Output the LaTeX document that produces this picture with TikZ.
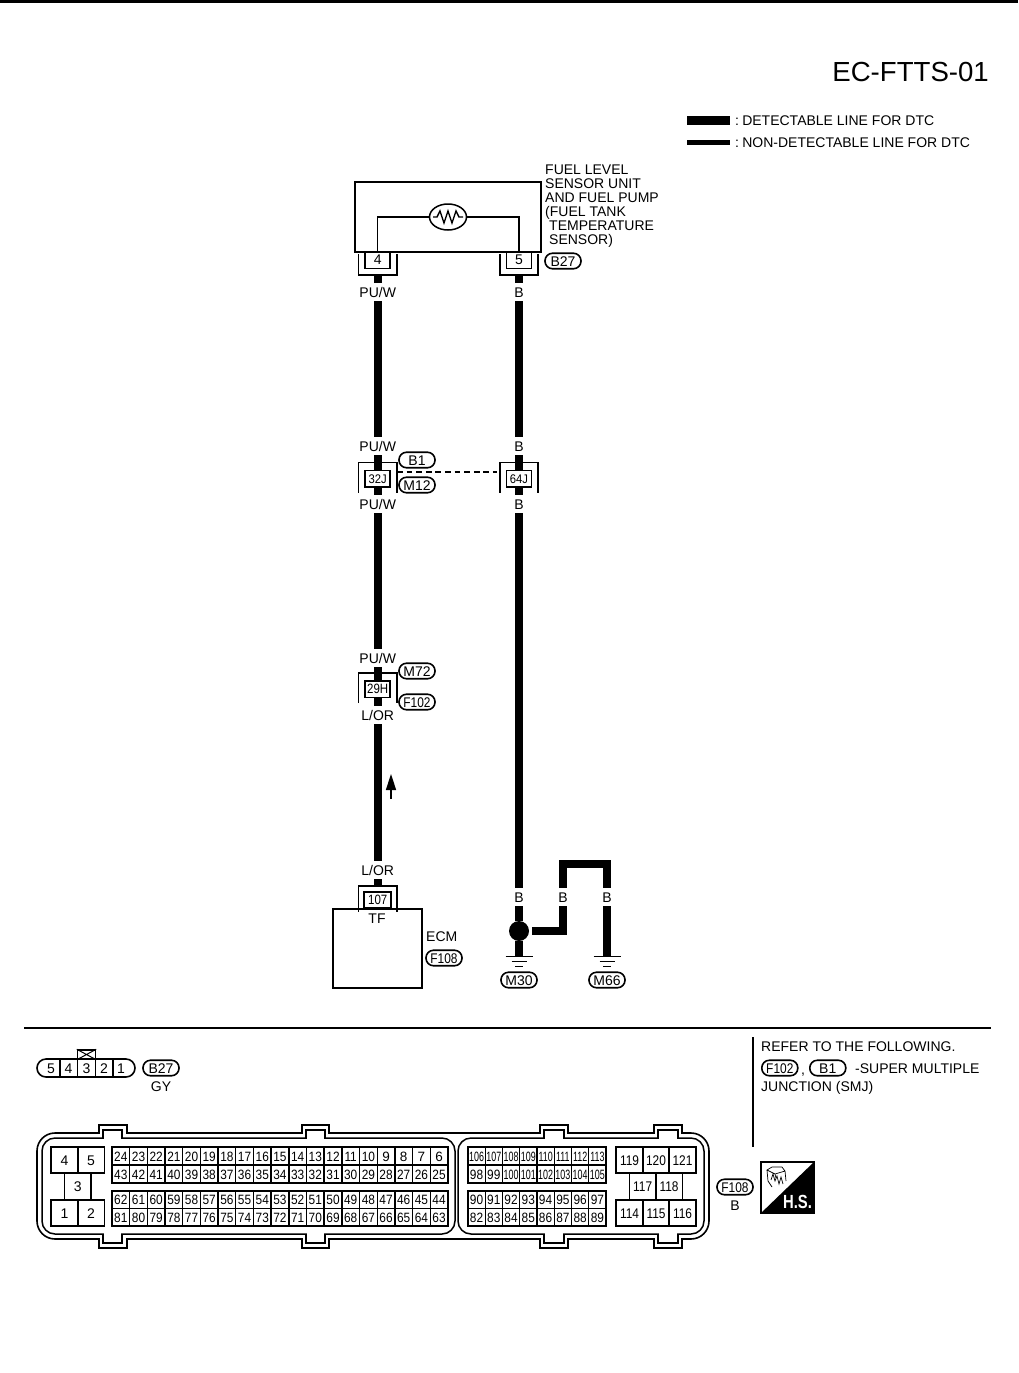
\documentclass[tikz,border=0pt]{standalone}
\usepackage{fontspec}
\setmainfont{Liberation Sans}
\usetikzlibrary{shapes.geometric}
\newcommand\fsz{\fontsize{14}{14}\selectfont}
\newcommand\fpin{\fontsize{13.5}{14}\selectfont}
\newcommand\nrw[1]{\scalebox{0.85}[1]{#1}}
\newcommand\cupU[1]{\draw[cshell] ([xshift=-6pt,yshift=-3pt]#1.north west) -- ([xshift=-6pt,yshift=-6pt]#1.south west) -- ([xshift=6pt,yshift=-6pt]#1.south east) -- ([xshift=6pt,yshift=-3pt]#1.north east);}
\newcommand\capU[1]{\draw[cshell] ([xshift=-6pt,yshift=-5pt]#1.south west) -- ([xshift=-6pt,yshift=7pt]#1.north west) -- ([xshift=6pt,yshift=7pt]#1.north east) -- ([xshift=6pt,yshift=-5pt]#1.south east);}
\newcommand\gnd[1]{\draw[gline] ([xshift=-13.5pt]#1) -- ([xshift=13.5pt]#1);
  \draw[gline] ([xshift=-7.5pt,yshift=-5pt]#1) -- ([xshift=7.5pt,yshift=-5pt]#1);
  \draw[gline] ([xshift=-4pt,yshift=-10pt]#1) -- ([xshift=4pt,yshift=-10pt]#1);}
\tikzset{
  x=1pt,y=-1pt,
  wire/.style={line width=8.2pt,line cap=butt,line join=miter},
  cshell/.style={line width=1.6pt},
  gline/.style={line width=1.7pt},
  lbl/.style={font=\fsz,inner sep=0pt,minimum height=18pt,text height=10pt,text depth=0pt},
  txt/.style={font=\fsz,inner sep=0pt,anchor=west,text height=10pt,text depth=0pt},
  conbox/.style={draw,line width=1.5pt,fill=white,inner sep=0pt,minimum width=25pt,minimum height=16.5pt,font=\fontsize{12.5}{13}\selectfont,text height=9pt,text depth=0pt},
  tag/.style={draw,line width=1.6pt,rounded corners=7.5pt,inner sep=0pt,minimum width=36pt,minimum height=15.5pt,font=\fsz,text height=10pt,text depth=0pt},
  pin/.style={draw,line width=1.4pt,inner sep=0pt,font=\fpin,text height=10pt,text depth=0pt,minimum width=17.68pt,minimum height=17.7pt},
  pinb/.style={pin,minimum width=17.25pt},
  bigpin/.style={draw,line width=1.5pt,inner sep=0pt,font=\fsz,text height=10pt,text depth=0pt,minimum width=26.6pt,minimum height=26.3pt},
}
\begin{document}
\begin{tikzpicture}
\useasboundingbox (0,0) rectangle (1018,1373);
% top rule
\coordinate (tl) at (0,1.5); \coordinate (tr) at (1018,1.5);
\draw[line width=3pt] (tl) -- (tr);
\node[font=\fontsize{27.6}{28}\selectfont,inner sep=0pt,anchor=east,text height=20pt,text depth=0pt] (title) at (989,71) {EC-FTTS-01};
% legend
\node[txt] (legA) at (735,120) {:\hspace{3.2pt}DETECTABLE LINE FOR DTC};
\node[txt] (legB) at (735,142) {:\hspace{3.2pt}NON-DETECTABLE LINE FOR DTC};
\coordinate (legA0) at (687,120); \coordinate (legB0) at (687,142);
\draw[line width=9pt] (legA0) -- ([xshift=-5pt]legA.west);
\draw[line width=5pt] (legB0) -- ([xshift=-5pt]legB.west);
% sensor unit
\node[draw,line width=1.6pt,minimum width=186pt,minimum height=70pt,inner sep=0pt] (sens) at (448,217) {};
\node[draw,line width=1.5pt,ellipse,minimum width=37pt,minimum height=26pt,inner sep=0pt] (therm) at (448,217) {};
\draw[line width=1.4pt,shift={(therm.center)}] (-15,0) -- (-11,0) -- (-8,-6) -- (-4,6) -- (0,-6) -- (4,6) -- (8,-6) -- (11,0) -- (15,0);
\node[font=\fsz,inner sep=0pt,anchor=north west,align=left] (senst) at (545,165) {FUEL LEVEL\\SENSOR UNIT\\AND FUEL PUMP\\(FUEL TANK\\\hspace*{4pt}TEMPERATURE\\\hspace*{4pt}SENSOR)};
\node[conbox,font=\fsz] (c4) at (377.7,260.2) {4};
\node[conbox,font=\fsz] (c5) at (519,260.2) {5};
\cupU{c4}\cupU{c5}
\draw[line width=1.4pt] (c4.north) |- (therm.west);
\draw[line width=1.4pt] (c5.north) |- (therm.east);
\node[tag] (tB27) at (563,261) {B27};
% wire labels
\node[lbl] (lA1) at (377.7,292) {PU/W};
\node[lbl] (lA2) at (377.7,446) {PU/W};
\node[lbl] (lA3) at (377.7,504) {PU/W};
\node[lbl] (lA4) at (377.7,658) {PU/W};
\node[lbl] (lA5) at (377.7,715) {L/OR};
\node[lbl] (lA6) at (377.7,870) {L/OR};
\node[lbl] (lB1) at (519,292) {B};
\node[lbl] (lB2) at (519,446) {B};
\node[lbl] (lB3) at (519,504) {B};
\node[lbl] (lB4) at (519,897) {B};
\node[lbl] (lB5) at (563,897) {B};
\node[lbl] (lB6) at (607,897) {B};
% mid connectors
\node[conbox] (c32) at (377.7,478.5) {\scalebox{0.9}[1]{32J}};
\node[conbox] (c64) at (519,478.5) {\scalebox{0.9}[1]{64J}};
\node[conbox,font=\fontsize{13.5}{14}\selectfont] (c29) at (377.7,689) {\scalebox{0.85}[1]{29H}};
\node[conbox,minimum width=27pt,minimum height=16pt,font=\fontsize{13.5}{14}\selectfont] (c107) at (377.7,900) {\scalebox{0.85}[1]{107}};
\capU{c32}\capU{c64}\capU{c29}
\draw[cshell] ([xshift=-5pt,yshift=-3pt]c107.south west) -- ([xshift=-5pt,yshift=5pt]c107.north west) -- ([xshift=5pt,yshift=5pt]c107.north east) -- ([xshift=5pt,yshift=-3pt]c107.south east);
\draw[line width=1.4pt,dash pattern=on 5.8pt off 3.8pt] ([xshift=6pt,yshift=6.5pt]c32.east) -- ([xshift=-9pt,yshift=6.5pt]c64.west);
\node[tag] (tB1) at (417,460) {B1};
\node[tag] (tM12) at (417,485) {M12};
\node[tag] (tM72) at (417,671) {M72};
\node[tag] (tF102) at (417,702) {\nrw{F102}};
% ECM
\node[draw,line width=1.6pt,minimum width=89pt,minimum height=79pt,inner sep=0pt] (ecm) at (377.5,948.5) {};
\node[lbl] (tf) at (377,918) {TF};
\node[txt] (ecmt) at (426,936) {ECM};
\node[tag] (tF108) at (444,958) {\nrw{F108}};
% dot and grounds
\node[circle,fill=black,inner sep=0pt,minimum size=20pt] (dot) at (519,931) {};
\coordinate (gA) at (519,956.5);
\coordinate (gB) at (607,956.5);
\gnd{gA}\gnd{gB}
\node[tag] (tM30) at (519,980) {M30};
\node[tag] (tM66) at (607,980) {M66};
\coordinate (topbend) at (585,864);
% wires
\draw[wire,shorten <=6pt] (c4.south) -- (lA1.north);
\draw[wire] (lA1.south) -- (lA2.north);
\draw[wire] (lA2.south) -- (c32.north);
\draw[wire] (c32.south) -- (lA3.north);
\draw[wire] (lA3.south) -- (lA4.north);
\draw[wire] (lA4.south) -- (c29.north);
\draw[wire] (c29.south) -- (lA5.north);
\draw[wire] (lA5.south) -- (lA6.north);
\draw[wire,shorten >=5pt] (lA6.south) -- (c107.north);
\draw[wire,shorten <=6pt] (c5.south) -- (lB1.north);
\draw[wire] (lB1.south) -- (lB2.north);
\draw[wire] (lB2.south) -- (c64.north);
\draw[wire] (c64.south) -- (lB3.north);
\draw[wire] (lB3.south) -- (lB4.north);
\draw[wire] (lB4.south) -- (dot.north);
\draw[wire] (dot.south) -- (gA);
\draw[wire] ([xshift=3pt]dot.east) -| (lB5.south);
\draw[wire] (lB5.north) |- (topbend) -| (lB6.north);
\draw[wire] (lB6.south) -- (gB);
% arrow
\coordinate (arT) at (391,774); \coordinate (arB) at (391,799);
\draw[line width=1.4pt] (arB) -- (391,785);
\fill (arT) -- (396.2,790) -- (385.8,790) -- cycle;
% divider
\coordinate (dl) at (24,1028); \coordinate (dr) at (991,1028);
\draw[line width=1.6pt] (dl) -- (dr);
% refer block
\coordinate (rt) at (753,1037); \coordinate (rb) at (753,1147);
\draw[line width=1.4pt] (rt) -- (rb);
\node[txt] (ref1) at (761,1046) {REFER TO THE FOLLOWING.};
\node[tag,anchor=west] (rF) at (761,1068) {\nrw{F102}};
\node[txt] (comma) at (801,1069) {,};
\node[tag,anchor=west] (rB) at (809,1068) {B1};
\node[txt] (ref2) at (855,1068) {-SUPER MULTIPLE};
\node[txt] (ref3) at (761,1086) {JUNCTION (SMJ)};
% B27 small connector
\node[draw,line width=1.6pt,rounded corners=9pt,minimum width=98pt,minimum height=18pt,inner sep=0pt] (sc) at (86,1068) {};
\foreach \xx in {60,77.5,95.5,113} \draw[line width=1.4pt] (\xx,1059) -- (\xx,1077);
\foreach \xx/\n in {51/5,68.5/4,86.5/3,104/2,121/1} \node[font=\fsz,inner sep=0pt,text height=10pt,text depth=0pt] (sc\n) at (\xx,1068) {\n};
\node[draw,line width=1.5pt,minimum width=18pt,minimum height=9pt,inner sep=0pt] (notch) at (86.5,1054.5) {};
\draw[line width=1pt] (notch.north west) -- (notch.south east) (notch.north east) -- (notch.south west);
\node[tag] (tB27b) at (161,1068) {B27};
\node[lbl] (gy) at (161,1086) {GY};
% F108 big connector body
\node[draw,line width=1.6pt,rounded corners=18pt,minimum width=672pt,minimum height=106pt,inner sep=0pt] (body) at (373,1186) {};
\node[draw,line width=1.5pt,rounded corners=13pt,minimum width=413pt,minimum height=96pt,inner sep=0pt] (pl) at (248.5,1186) {};
\node[draw,line width=1.5pt,rounded corners=13pt,minimum width=246pt,minimum height=96pt,inner sep=0pt] (pr) at (581,1186) {};
\foreach \a/\b/\c/\d in {99/103/122/127,302/306/325/329,540/544/564/568,654/658/678/682}{
  \fill[white] (\a+0.8,1131) rectangle (\d-0.8,1135);
  \fill[white] (\b+0.8,1136) rectangle (\c-0.8,1140);
  \fill[white] (\a+0.8,1237) rectangle (\d-0.8,1241);
  \fill[white] (\b+0.8,1232) rectangle (\c-0.8,1236);
  \draw[line width=1.5pt] (\a,1133) -- (\a,1125) -- (\d,1125) -- (\d,1133);
  \draw[line width=1.5pt] (\b,1138) -- (\b,1130) -- (\c,1130) -- (\c,1138);
  \draw[line width=1.5pt] (\a,1239) -- (\a,1248) -- (\d,1248) -- (\d,1239);
  \draw[line width=1.5pt] (\b,1234) -- (\b,1243) -- (\c,1243) -- (\c,1234);
}
% left power pins
\node[bigpin] (b4) at (64.5,1160) {4};
\node[bigpin] (b5) at (91,1160) {5};
\node[bigpin] (b3) at (77.7,1186.5) {3};
\node[bigpin] (b1) at (64.5,1213) {1};
\node[bigpin] (b2) at (91,1213) {2};
% signal pins, left block
\foreach \yy/\first in {1156/24,1174/43,1199.7/62,1217.3/81}{
  \foreach \i in {0,...,18}{
    \pgfmathtruncatemacro{\n}{\first-\i}
    \node[pin] (p\n) at ({120.84+\i*17.68},\yy) {\ifnum\n<10 \n\else\scalebox{0.88}[1]{\n}\fi};
  }
}
% signal pins, right block
\foreach \yy/\first in {1156/106,1174/98,1199.7/90,1217.3/82}{
  \foreach \i in {0,...,7}{
    \pgfmathtruncatemacro{\n}{\first+\i}
    \node[pinb] (p\n) at ({476.6+\i*17.25},\yy) {\ifnum\n<100 \scalebox{0.88}[1]{\n}\else\scalebox{0.66}[1]{\n}\fi};
  }
}
% right power pins
\node[bigpin] (p119) at (629.5,1160) {\nrw{119}};
\node[bigpin] (p120) at (656,1160) {\nrw{120}};
\node[bigpin] (p121) at (682.5,1160) {\nrw{121}};
\node[bigpin] (p117) at (642.7,1186.5) {\nrw{117}};
\node[bigpin] (p118) at (669,1186.5) {\nrw{118}};
\node[bigpin] (p114) at (629.5,1213) {\nrw{114}};
\node[bigpin] (p115) at (656,1213) {\nrw{115}};
\node[bigpin] (p116) at (682.5,1213) {\nrw{116}};
\node[tag] (tF108b) at (735,1187) {\nrw{F108}};
\node[lbl] (bb) at (735,1205) {B};
% H.S. symbol
\node[draw,line width=1.4pt,minimum width=53pt,minimum height=51pt,inner sep=0pt] (hs) at (787.5,1187.5) {};
\fill (hs.north east) -- (hs.south east) -- (hs.south west) -- cycle;
\node[text=white,inner sep=0pt,font=\bfseries\fontsize{19}{19}\selectfont,text height=14pt,text depth=0pt] (hst) at (797.5,1201) {\scalebox{0.78}[1]{H.S.}};
\draw[line width=0.7pt] (767,1170) -- (772,1167) -- (782,1167) -- (785,1171) -- (775,1174) -- cycle
  (767,1170) -- (768,1181) -- (772,1187) (775,1174) -- (776,1178) (785,1171) -- (786,1181)
  (771,1180) -- (773,1174) -- (775,1181) -- (777,1176) -- (779,1184) -- (781,1177) -- (783,1184);
\end{tikzpicture}
\end{document}
